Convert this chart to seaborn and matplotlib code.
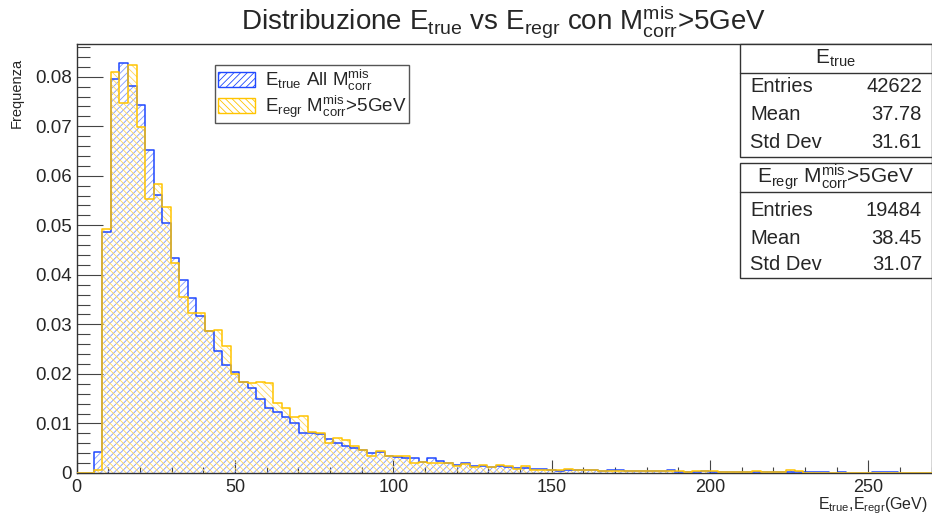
import numpy as np
import pandas as pd
import matplotlib
matplotlib.use("Agg")
import matplotlib.pyplot as plt
import seaborn as sns
from matplotlib.patches import Patch, Rectangle
from matplotlib.ticker import MultipleLocator, FixedLocator, FuncFormatter

# ---------------- data ----------------
x_min, x_max, n_bins = 0.0, 270.0, 100
bin_edges = list(np.linspace(x_min, x_max, n_bins + 1))
bin_centers = [0.5 * (a + b) for a, b in zip(bin_edges[:-1], bin_edges[1:])]

e_true = [0, 0, 0.0043, 0.0487, 0.0796, 0.0827, 0.0782, 0.0742, 0.0653, 0.0562,
          0.0505, 0.0434, 0.0390, 0.0354, 0.0317, 0.0286, 0.0247, 0.0219, 0.0204, 0.0184,
          0.0171, 0.0149, 0.0132, 0.0124, 0.0114, 0.0101, 0.0081, 0.0081, 0.0079, 0.0069,
          0.0060, 0.0055, 0.0050, 0.0046, 0.0040, 0.0043, 0.0034, 0.0033, 0.0031, 0.0030,
          0.0023, 0.0030, 0.0025, 0.0020, 0.0016, 0.0020, 0.0015, 0.0014, 0.0013, 0.0015,
          0.0013, 0.0011, 0.0011, 0.0009, 0.0009, 0.0007, 0.0005, 0.0007, 0.0007, 0.0006,
          0.0006, 0.0005, 0.0006, 0.0007, 0.0005, 0.0004, 0.0005, 0.0003, 0.0003, 0.0006,
          0.0002, 0.0002, 0.0001, 0.0003, 0.0002, 0.0001, 0.0001, 0.0001, 0.0001, 0.0002,
          0.0001, 0.0001, 0.0001, 0.0001, 0.0002, 0.0002, 0.0002, 0.0002, 0, 0.0002,
          0, 0, 0, 0.0002, 0.0002, 0.0002, 0, 0, 0, 0]

e_regr = [0, 0, 0.0006, 0.0493, 0.0809, 0.0747, 0.0824, 0.0698, 0.0554, 0.0583,
          0.0536, 0.0424, 0.0355, 0.0323, 0.0322, 0.0286, 0.0288, 0.0257, 0.0200, 0.0183,
          0.0182, 0.0184, 0.0181, 0.0141, 0.0132, 0.0114, 0.0116, 0.0083, 0.0080, 0.0060,
          0.0071, 0.0067, 0.0055, 0.0047, 0.0034, 0.0044, 0.0034, 0.0035, 0.0035, 0.0020,
          0.0023, 0.0020, 0.0020, 0.0020, 0.0015, 0.0019, 0.0013, 0.0017, 0.0013, 0.0016,
          0.0014, 0.0009, 0.0014, 0.0006, 0.0006, 0.0007, 0.0006, 0.0009, 0.0006, 0.0007,
          0.0007, 0.0003, 0.0005, 0.0005, 0.0004, 0.0003, 0.0005, 0.0003, 0.0005, 0.0005,
          0.0005, 0.0001, 0.0003, 0.0004, 0.0003, 0.0001, 0.0001, 0.0001, 0.0001, 0.0003,
          0.0001, 0.0001, 0.0001, 0.0007, 0.0003, 0, 0, 0, 0, 0,
          0, 0, 0, 0, 0, 0, 0, 0, 0, 0]

y_ticks = [0, 0.01, 0.02, 0.03, 0.04, 0.05, 0.06, 0.07, 0.08]
x_ticks = [0, 50, 100, 150, 200, 250]

stat_labels = ["Entries", "Mean", "Std Dev"]
stats_true = ["42622", "37.78", "31.61"]
stats_regr = ["19484", "38.45", "31.07"]

title_text = r"Distribuzione E$_{\rm true}$ vs E$_{\rm regr}$ con M$^{\rm mis}_{\rm corr}$>5GeV"
legend_true = r"E$_{\rm true}$ All M$^{\rm mis}_{\rm corr}$"
legend_regr = r"E$_{\rm regr}$ M$^{\rm mis}_{\rm corr}$>5GeV"
header_true = r"E$_{\rm true}$"
header_regr = r"E$_{\rm regr}$ M$^{\rm mis}_{\rm corr}$>5GeV"
x_label = r"E$_{\rm true}$,E$_{\rm regr}$(GeV)"
y_label = "Frequenza"

# ---------------- style ----------------
sns.set_style("ticks")
plt.rcParams["font.family"] = ["Liberation Sans", "DejaVu Sans"]
plt.rcParams["mathtext.fontset"] = "custom"
plt.rcParams["mathtext.rm"] = "Liberation Sans"
plt.rcParams["mathtext.it"] = "Liberation Sans:italic"
plt.rcParams["mathtext.bf"] = "Liberation Sans:bold"
plt.rcParams["hatch.linewidth"] = 0.6

blue = "#1f48ff"
blue_hatch = "#7f98ff"
yellow = "#ffc400"
yellow_hatch = "#ffd75a"

df = pd.DataFrame({"center": bin_centers, "true": e_true, "regr": e_regr})

fig = plt.figure(figsize=(9.32, 5.22), dpi=100)
ax = fig.add_axes([0.0823, 0.0939, 0.9174, 0.8218])

# hatched fills
plt.rcParams["hatch.color"] = blue_hatch
sns.histplot(data=df, x="center", weights="true", bins=bin_edges, element="step",
             fill=True, color=blue_hatch, facecolor="none", edgecolor=blue_hatch,
             linewidth=0, hatch="/////", ax=ax)
plt.rcParams["hatch.color"] = yellow_hatch
sns.histplot(data=df, x="center", weights="regr", bins=bin_edges, element="step",
             fill=True, color=yellow_hatch, facecolor="none", edgecolor=yellow_hatch,
             linewidth=0, hatch="\\\\\\\\\\", ax=ax)
# outlines (drawn over the frame like ROOT does)
sns.histplot(data=df, x="center", weights="true", bins=bin_edges, element="step",
             fill=False, color=blue, linewidth=1.1, zorder=3, ax=ax)
sns.histplot(data=df, x="center", weights="regr", bins=bin_edges, element="step",
             fill=False, color=yellow, linewidth=1.1, zorder=3, ax=ax)

ax.set_xlim(x_min, x_max)
ax.set_ylim(0, 0.0866)
ax.set_xlabel("")
ax.set_ylabel("")

for s in ax.spines.values():
    s.set_visible(True)
    s.set_linewidth(1.0)
    s.set_color("#333333")

ax.xaxis.set_major_locator(FixedLocator(x_ticks))
ax.xaxis.set_minor_locator(MultipleLocator(10))
ax.yaxis.set_major_locator(FixedLocator(y_ticks))
ax.yaxis.set_minor_locator(MultipleLocator(0.002))
ax.yaxis.set_major_formatter(FuncFormatter(lambda v, p: "0" if abs(v) < 1e-9 else f"{v:.2f}"))
ax.xaxis.set_major_formatter(FuncFormatter(lambda v, p: f"{v:.0f}"))
ax.tick_params(axis="x", which="major", direction="in", length=9.3, width=0.8,
               color="#444444", labelsize=13, pad=4)
ax.tick_params(axis="x", which="minor", direction="in", length=4.6, width=0.8, color="#444444")
ax.tick_params(axis="y", which="major", direction="in", length=18.7, width=0.8,
               color="#444444", labelsize=13.5, pad=3.5)
ax.tick_params(axis="y", which="minor", direction="in", length=9.4, width=0.8, color="#444444")

# titles / labels
fig.text(504 / 932, 1 - 22 / 522, title_text, ha="center", va="center", fontsize=20)
fig.text(928 / 932, 1 - 509 / 522, x_label, ha="right", va="baseline", fontsize=11.5)
fig.text(17 / 932, 1 - 58 / 522, y_label, ha="center", va="top", rotation=90, fontsize=10.5)

# legend
handles = [
    Patch(facecolor="white", edgecolor=blue, hatch="/////", linewidth=1.0, label=legend_true),
    Patch(facecolor="white", edgecolor=yellow, hatch="\\\\\\\\\\", linewidth=1.0, label=legend_regr),
]
leg = ax.legend(handles=handles, loc="upper left",
                bbox_to_anchor=((215 - 76.7) / 855, (473 - 65) / 429),
                borderaxespad=0, fontsize=13.5, frameon=True, fancybox=False,
                framealpha=1, edgecolor="#555555", handlelength=2.0, handleheight=0.9,
                handletextpad=0.5, labelspacing=0.05, borderpad=0.15)
leg.get_frame().set_linewidth(1.0)


# stats boxes
def stats_box(top, bottom, header_line, header, values, row_y):
    W, H = 932.0, 522.0
    x0, x1 = 739.5, 931.5
    rect = Rectangle((x0 / W, 1 - bottom / H), (x1 - x0) / W, (bottom - top) / H,
                     transform=fig.transFigure, facecolor="white", edgecolor="#333333",
                     linewidth=1.0, zorder=5)
    fig.add_artist(rect)
    fig.add_artist(plt.Line2D([x0 / W, x1 / W], [1 - header_line / H] * 2,
                              transform=fig.transFigure, color="#333333", lw=1.0, zorder=6))
    fig.text((x0 + x1) / 2 / W, 1 - (top + header_line) / 2 / H, header,
             ha="center", va="center", fontsize=15, zorder=7)
    for lab, val, yy in zip(stat_labels, values, row_y):
        fig.text(750 / W, 1 - yy / H, lab, ha="left", va="center", fontsize=14.5, zorder=7)
        fig.text(922 / W, 1 - yy / H, val, ha="right", va="center", fontsize=14.5, zorder=7)


stats_box(44, 156.5, 72.5, header_true, stats_true, [87, 115, 143])
stats_box(163, 278, 192, header_regr, stats_regr, [210, 238, 265])

fig.savefig("out.png", dpi=100)
